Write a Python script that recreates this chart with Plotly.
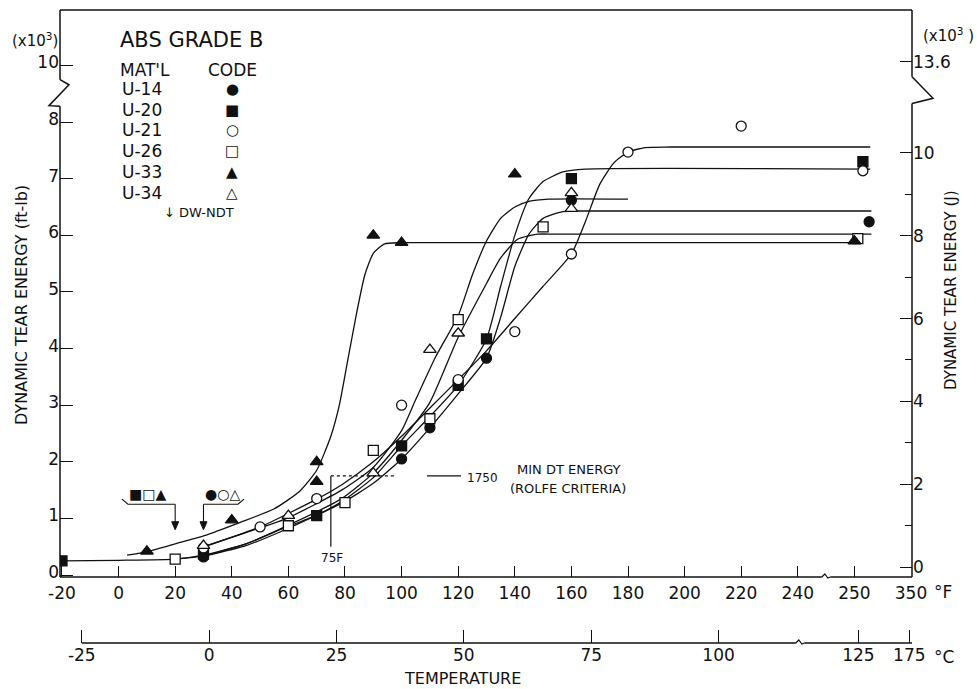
import plotly.graph_objects as go

FT2J = 1.3558  # ft-lb -> J

# ---------------- data (temperature in °F, energy in 10^3 ft-lb) ----------------
# measured points
u14_t = [30, 100, 110, 130, 160, 276]
u14_e = [0.32, 2.05, 2.6, 3.83, 6.62, 6.24]
u20_t = [-20, 30, 70, 100, 120, 130, 160, 265]
u20_e = [0.25, 0.37, 1.05, 2.28, 3.35, 4.17, 7.0, 7.3]
u21_t = [30, 50, 70, 100, 120, 140, 160, 180, 220, 265]
u21_e = [0.48, 0.85, 1.35, 3.0, 3.45, 4.3, 5.67, 7.47, 7.93, 7.14]
u26_t = [20, 60, 80, 90, 110, 120, 150, 256]
u26_e = [0.28, 0.87, 1.28, 2.2, 2.76, 4.51, 6.15, 5.94]
u33_t = [10, 40, 70, 70, 90, 100, 140, 250]
u33_e = [0.42, 0.97, 1.65, 2.0, 6.0, 5.87, 7.08, 5.9]
u34_t = [30, 60, 90, 110, 120, 160, 160]
u34_e = [0.52, 1.05, 1.8, 3.98, 4.27, 6.75, 6.47]

# hand-faired transition curves
c14_t = [30, 45, 57, 78.5, 90, 100, 110, 120, 130, 135, 140, 145, 150, 157, 165, 280]
c14_e = [0.33, 0.52, 0.76, 1.26, 1.62, 2.05, 2.6, 3.2, 3.83, 4.55, 5.45, 6.02, 6.3, 6.42, 6.43, 6.43]
c20_t = [-20, 0, 20, 30, 45, 57, 70, 79, 90, 100, 110, 120, 130, 135, 140, 145, 150, 157, 165, 278]
c20_e = [0.25, 0.26, 0.28, 0.35, 0.55, 0.8, 1.06, 1.3, 1.72, 2.28, 2.8, 3.35, 4.17, 5.1, 6.0, 6.65, 6.95, 7.12, 7.17, 7.17]
c21_t = [28, 50, 70, 79, 90, 100, 110, 120, 130, 140, 150, 160, 165, 170, 175, 180, 186, 195, 278]
c21_e = [0.46, 0.85, 1.34, 1.6, 2.0, 2.45, 2.95, 3.45, 3.96, 4.53, 5.1, 5.67, 6.25, 6.9, 7.28, 7.47, 7.55, 7.56, 7.56]
c26_t = [20, 30, 45, 57, 78.5, 90, 100, 110, 120, 130, 135, 141, 148, 155, 280]
c26_e = [0.28, 0.34, 0.55, 0.81, 1.34, 1.8, 2.38, 3.05, 4.2, 5.15, 5.6, 5.93, 6.02, 6.02, 6.02]
c33_t = [3, 10, 20, 30, 43, 55, 64, 70, 75, 78, 81, 84, 87, 90, 94, 100, 250]
c33_e = [0.35, 0.41, 0.55, 0.69, 0.93, 1.17, 1.48, 1.85, 2.45, 3.0, 3.8, 4.6, 5.3, 5.68, 5.85, 5.87, 5.87]
c34_t = [30, 45, 59, 78.5, 90, 100, 105, 112, 120, 125, 130, 135, 140, 145, 152, 180]
c34_e = [0.5, 0.75, 0.99, 1.49, 1.9, 2.55, 3.1, 3.85, 4.58, 5.3, 5.9, 6.3, 6.5, 6.6, 6.64, 6.64]

materials = ["U-14", "U-20", "U-21", "U-26", "U-33", "U-34"]
codes = ["●", "■", "○", "□", "▲", "△"]

f_ticks = [-20, 0, 20, 40, 60, 80, 100, 120, 140, 160, 180, 200, 220, 240, 250, 350]
c_ticks = [-25, 0, 25, 50, 75, 100, 125, 175]
ft_ticks = [0, 1, 2, 3, 4, 5, 6, 7, 8, 10]
j_ticks = [0, 2, 4, 6, 8, 10, 13.6]
j_minor = [1, 3, 5, 7, 9]

dwndt_group1 = 20   # ■ □ ▲
dwndt_group2 = 30   # ● ○ △
min_dt_energy = 1.75  # 1750 ft-lb
room_temp = 75


def fpos(t):
    """position on the broken °F axis"""
    if t <= 240:
        return t
    if t <= 250:
        return 240 + 2 * (t - 240)
    return 260 + (t - 250) * 0.2


def epos(e):
    """position on the broken energy axis (10 plotted where 9 would be)"""
    return e if e <= 8 else 9 + (e - 10) * 0.1


# ---------------- layout geometry ----------------
W, H = 977, 689
ML, MR, MT, MB = 60, 65, 10, 40
PW, PH = W - ML - MR, H - MT - MB
XR = [-20.7, 280.35]
YR = [-0.035, 9.98]
YR2 = [-0.24, 13.45]
ydom0 = (H - MB - 577) / PH


def xp(px):
    return (px - ML) / PW


def yp(py):
    return (H - MB - py) / PH


BLACK = "#111111"
FONT = "DejaVu Sans"

fig = go.Figure()

curves = [(c14_t, c14_e), (c20_t, c20_e), (c21_t, c21_e), (c26_t, c26_e), (c33_t, c33_e), (c34_t, c34_e)]
for ct, ce in curves:
    fig.add_trace(go.Scatter(x=[fpos(t) for t in ct], y=ce, mode="lines",
                             line=dict(color=BLACK, width=1.3, shape="spline", smoothing=0.55),
                             hoverinfo="skip", showlegend=False))

points = [(u14_t, u14_e, "circle", BLACK, 10), (u20_t, u20_e, "square", BLACK, 10),
          (u21_t, u21_e, "circle", "white", 10), (u26_t, u26_e, "square", "white", 10),
          (u33_t, u33_e, "triangle-up", BLACK, 11), (u34_t, u34_e, "triangle-up", "white", 11)]
for (pt, pe, sym, fill, sz), name in zip(points, materials):
    fig.add_trace(go.Scatter(x=[fpos(t) for t in pt], y=pe, mode="markers", name=name,
                             marker=dict(symbol=sym, size=sz, color=fill,
                                         line=dict(color=BLACK, width=1.3)),
                             showlegend=False))

# helper traces so that secondary axes are drawn
fig.add_trace(go.Scatter(x=[None], y=[None], xaxis="x2", yaxis="y", showlegend=False, hoverinfo="skip"))
fig.add_trace(go.Scatter(x=[None], y=[None], xaxis="x", yaxis="y2", showlegend=False, hoverinfo="skip"))

tickfont = dict(family=FONT, size=17, color=BLACK)

fig.update_layout(
    width=W, height=H, margin=dict(l=ML, r=MR, t=MT, b=MB),
    paper_bgcolor="white", plot_bgcolor="white", showlegend=False,
    font=dict(family=FONT, color=BLACK),
    xaxis=dict(range=XR, domain=[0, 1], anchor="y", tickmode="array",
               tickvals=[fpos(t) for t in f_ticks], ticktext=[str(t) for t in f_ticks],
               ticks="inside", ticklen=11, tickwidth=1.3, tickcolor=BLACK, ticklabelstandoff=4,
               showgrid=False, zeroline=False, showline=False, tickfont=tickfont),
    xaxis2=dict(range=XR, overlaying="x", anchor="free", position=yp(643), side="bottom",
                tickmode="array", tickvals=[fpos(c * 1.8 + 32) for c in c_ticks],
                ticktext=[str(c) for c in c_ticks], ticks="inside", ticklen=13, tickwidth=1.3,
                tickcolor=BLACK, showgrid=False, zeroline=False, showline=False, tickfont=tickfont),
    yaxis=dict(range=YR, domain=[ydom0, 1], tickmode="array",
               tickvals=[epos(v) for v in ft_ticks], ticktext=[str(v) for v in ft_ticks],
               ticks="inside", ticklen=13, tickwidth=1.3, tickcolor=BLACK, ticklabelshift=-3,
               showgrid=False, zeroline=False, showline=False, tickfont=tickfont),
    yaxis2=dict(range=YR2, overlaying="y", side="right", anchor="x",
                tickmode="array",
                tickvals=[v if v <= 10 else epos(10) * FT2J for v in j_ticks],
                ticktext=[str(v) for v in j_ticks],
                ticks="inside", ticklen=12, tickwidth=1.3, tickcolor=BLACK,
                minor=dict(tickmode="array", tickvals=j_minor, ticks="inside",
                           ticklen=7, tickwidth=1.2, tickcolor=BLACK),
                showgrid=False, zeroline=False, showline=False, tickfont=tickfont),
)

LW = 1.5
shapes = []
def seg(**kw):
    d = dict(type="line", line=dict(color=BLACK, width=LW))
    d.update(kw)
    shapes.append(d)

# frame lines with breaks
seg(xref="paper", yref="y", x0=0, x1=0, y0=YR[0], y1=8.28)
seg(xref="paper", yref="y", x0=0, x1=0, y0=8.75, y1=YR[1])
seg(xref="paper", yref="y", x0=1, x1=1, y0=YR[0], y1=8.33)
seg(xref="paper", yref="y", x0=1, x1=1, y0=8.8, y1=YR[1])
seg(xref="paper", yref="paper", x0=0, x1=1, y0=1, y1=1)
seg(xref="x", yref="paper", x0=XR[0], x1=248.5, y0=ydom0, y1=ydom0)
seg(xref="x", yref="paper", x0=251.5, x1=XR[1], y0=ydom0, y1=ydom0)
cpos0 = fpos(c_ticks[0] * 1.8 + 32)
seg(xref="x", yref="paper", x0=cpos0, x1=239.3, y0=yp(643), y1=yp(643))
seg(xref="x", yref="paper", x0=242.3, x1=XR[1], y0=yp(643), y1=yp(643))
# break marks
shapes.append(dict(type="path", xref="paper", xsizemode="pixel", xanchor=0, yref="y",
                   path="M 0,8.75 L 9,8.66 L -11,8.29 L 0,8.28", line=dict(color=BLACK, width=LW)))
shapes.append(dict(type="path", xref="paper", xsizemode="pixel", xanchor=1, yref="y",
                   path="M 0,8.8 L 21,8.42 L 0,8.33", line=dict(color=BLACK, width=LW)))
for anchor_x, anchor_y in [(248.5, ydom0), (239.3, yp(643))]:
    shapes.append(dict(type="path", xref="x", xsizemode="pixel", xanchor=anchor_x,
                       yref="paper", ysizemode="pixel", yanchor=anchor_y,
                       path="M 0,0 L 3,3 L 6,-1 L 8.5,0", line=dict(color=BLACK, width=1.2)))

# 75F room temperature marker and 1750 ft-lb criterion
seg(xref="x", yref="y", x0=room_temp, x1=room_temp, y0=0.5, y1=min_dt_energy, line=dict(color=BLACK, width=1.2))
seg(xref="x", yref="y", x0=room_temp, x1=98, y0=min_dt_energy, y1=min_dt_energy,
    line=dict(color=BLACK, width=1.2, dash="dot"))
seg(xref="x", yref="y", x0=109, x1=121, y0=min_dt_energy, y1=min_dt_energy, line=dict(color=BLACK, width=1.2))

# DW-NDT brackets and arrows
shapes.append(dict(type="path", xref="x", yref="y", path="M 1.2,1.34 L 3.3,1.25 L %s,1.25" % dwndt_group1,
                   line=dict(color=BLACK, width=1.1)))
shapes.append(dict(type="path", xref="x", yref="y", path="M %s,1.25 L 42.2,1.25 L 44.3,1.34" % dwndt_group2,
                   line=dict(color=BLACK, width=1.1)))
for t in [dwndt_group1, dwndt_group2]:
    seg(xref="x", yref="y", x0=t, x1=t, y0=1.25, y1=0.82, line=dict(color=BLACK, width=1.1))
    shapes.append(dict(type="path", xref="x", xsizemode="pixel", xanchor=t,
                       yref="y", ysizemode="pixel", yanchor=0.8,
                       path="M -3.5,8 L 0,0 L 3.5,8 Z", fillcolor=BLACK,
                       line=dict(color=BLACK, width=1)))
fig.update_layout(shapes=shapes)

ann = []
def txt(text, px, py, size=15, xanchor="center", **kw):
    ann.append(dict(text=text, x=xp(px), y=yp(py), xref="paper", yref="paper", showarrow=False,
                    xanchor=xanchor, yanchor="middle", font=dict(family=FONT, size=size, color=BLACK), **kw))

txt("(x10<sup>3</sup>)", 35, 40, 15)
txt("(x10<sup>3</sup> )", 948, 35, 15)
txt("ABS GRADE B", 191, 40, 21)
txt("MAT'L", 145, 70, 17)
txt("CODE", 232, 70, 17)
for i, (m, c) in enumerate(zip(materials, codes)):
    yy = 89 + i * 20.7
    txt(m, 120, yy, 17, xanchor="left")
    txt(c, 232, yy, 15)
txt("↓ DW-NDT", 162, 212, 13, xanchor="left")
txt("DYNAMIC TEAR ENERGY (ft-lb)", 21, 305, 16, textangle=-90)
txt("DYNAMIC TEAR ENERGY (J)", 951, 290, 15, textangle=-90)
txt("°F", 932, 592, 17, xanchor="left")
txt("°C", 932, 657, 17, xanchor="left")
txt("TEMPERATURE", 462, 678, 16)
txt("75F", 332, 558, 12)
txt("1750", 465, 478, 12, xanchor="left")
txt("MIN DT ENERGY", 569, 470, 13)
txt("(ROLFE CRITERIA)", 568, 488, 13)
txt("■□▲", 147, 494, 14)
txt("●○△", 222, 494, 14)
fig.update_layout(annotations=ann)

fig.write_html("out.html")
